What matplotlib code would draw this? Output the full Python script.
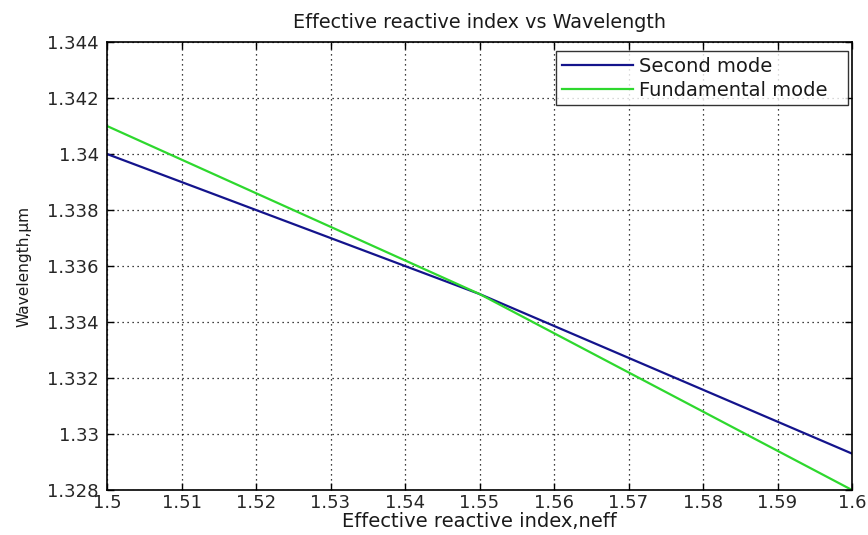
import matplotlib
matplotlib.use("Agg")
import matplotlib.pyplot as plt
import numpy as np

plt.rcParams['font.family'] = ['DejaVu Sans']

neff = [1.50, 1.55, 1.60]
second_mode = [1.3400, 1.3350, 1.3293]
fundamental_mode = [1.3410, 1.3350, 1.3280]
xticks = [1.5, 1.51, 1.52, 1.53, 1.54, 1.55, 1.56, 1.57, 1.58, 1.59, 1.6]
xticklabels = ['1.5', '1.51', '1.52', '1.53', '1.54', '1.55', '1.56', '1.57', '1.58', '1.59', '1.6']
yticks = [1.328, 1.33, 1.332, 1.334, 1.336, 1.338, 1.34, 1.342, 1.344]
yticklabels = ['1.328', '1.33', '1.332', '1.334', '1.336', '1.338', '1.34', '1.342', '1.344']

fig = plt.figure(figsize=(8.68, 5.35), dpi=100)
ax = fig.add_axes([107/868, 1 - 490/535, (852-107)/868, (490-42)/535])

ax.plot(neff, second_mode, color='#14148c', lw=1.6, label='Second mode')
ax.plot(neff, fundamental_mode, color='#2ed82e', lw=1.6, label='Fundamental mode')

ax.set_xlim(1.5, 1.6)
ax.set_ylim(1.328, 1.344)
ax.set_xticks(xticks)
ax.set_xticklabels(xticklabels)
ax.set_yticks(yticks)
ax.set_yticklabels(yticklabels)
ax.grid(True, linestyle=(0, (1, 3)), color='black', lw=0.9)
ax.tick_params(direction='in', top=True, right=True, length=5, labelsize=13,
               colors='black', labelcolor='#262626', width=1)
ax.tick_params(axis='x', pad=3)
ax.tick_params(axis='y', pad=6)
for s in ax.spines.values():
    s.set_linewidth(1.2)

ax.set_title('Effective reactive index vs Wavelength', fontsize=13.8, pad=10, color='#1a1a1a')
ax.set_xlabel('Effective reactive index,neff', fontsize=14, labelpad=0, color='#1a1a1a')
ax.set_ylabel('Wavelength,μm', fontsize=11.1, color='#1a1a1a')
ax.yaxis.set_label_coords(-0.102, 0.5)

leg = ax.legend(loc='upper left', bbox_to_anchor=(0.603, 0.0, 0.3913, 0.98),
                mode='expand', borderaxespad=0.0,
                fontsize=14, frameon=True, fancybox=False,
                edgecolor='black', handlelength=3.65,
                borderpad=0.3, labelspacing=0.25, handletextpad=0.3)
leg.get_frame().set_linewidth(1.0)
for t in leg.get_texts():
    t.set_color('#1a1a1a')

fig.savefig('out.png', dpi=100)
